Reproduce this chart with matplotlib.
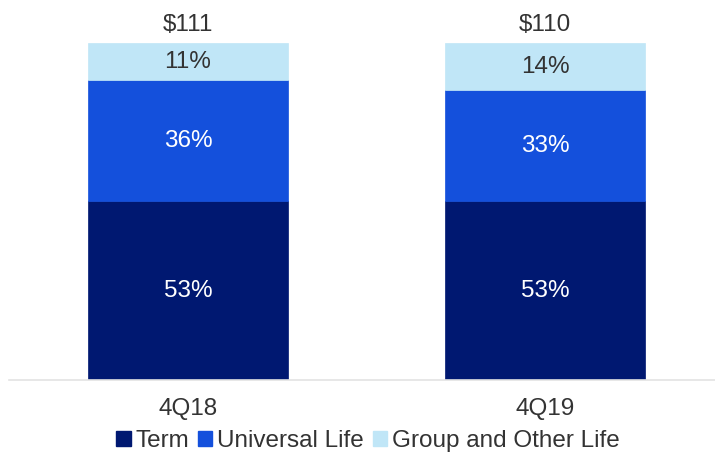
import matplotlib
matplotlib.use("Agg")
import matplotlib.pyplot as plt
from matplotlib.patches import Patch

categories = ["4Q18", "4Q19"]
totals = ["$111", "$110"]
term = [53, 53]
universal = [36, 33]
group = [11, 14]

series = [
    ("Term", term, "#001871", "white"),
    ("Universal Life", universal, "#1450DC", "white"),
    ("Group and Other Life", group, "#C0E6F7", "#333333"),
]

plt.rcParams['font.family'] = ['Liberation Sans', 'DejaVu Sans']
FS = 17.5

fig = plt.figure(figsize=(7.15, 4.53), dpi=100)
ax = fig.add_axes([9/715, 73/453, 706/715, 337/453])

x = list(range(len(categories)))
bottoms = [0] * len(categories)
width = 0.56
for name, vals, color, tcolor in series:
    ax.bar(x, vals, width=width, bottom=bottoms, color=color,
           edgecolor=color, linewidth=0.5, label=name)
    for xi, v, b in zip(x, vals, bottoms):
        ax.text(xi, b + v / 2, f"{v}%", ha="center", va="center",
                fontsize=FS, color=tcolor)
    bottoms = [b + v for b, v in zip(bottoms, vals)]

for xi, t, b in zip(x, totals, bottoms):
    ax.annotate(t, (xi, b), xytext=(0, 8.6), textcoords="offset points",
                ha="center", va="baseline", fontsize=FS, color="#333333",
                annotation_clip=False)

ax.set_xlim(-0.501, 1.476)
ax.set_ylim(0, 100)
for s in ["top", "right", "left"]:
    ax.spines[s].set_visible(False)
ax.spines["bottom"].set_color("#E3E3E3")
ax.spines["bottom"].set_linewidth(1.2)
ax.set_yticks([])
ax.set_xticks(x)
ax.set_xticklabels(categories, fontsize=FS, color="#333333")
ax.tick_params(axis="x", length=0, pad=13)

handles = [Patch(facecolor=c, edgecolor=c) for _, _, c, _ in series]
labels = [n for n, _, _, _ in series]
fig.legend(handles, labels, loc="center", bbox_to_anchor=(368/715, 1 - 441/453),
           ncol=3, frameon=False, fontsize=FS, handlelength=0.6, handleheight=0.6,
           handletextpad=0.2, columnspacing=0.35, labelcolor="#333333",
           borderaxespad=0, borderpad=0)

fig.savefig("out.png", dpi=100)
